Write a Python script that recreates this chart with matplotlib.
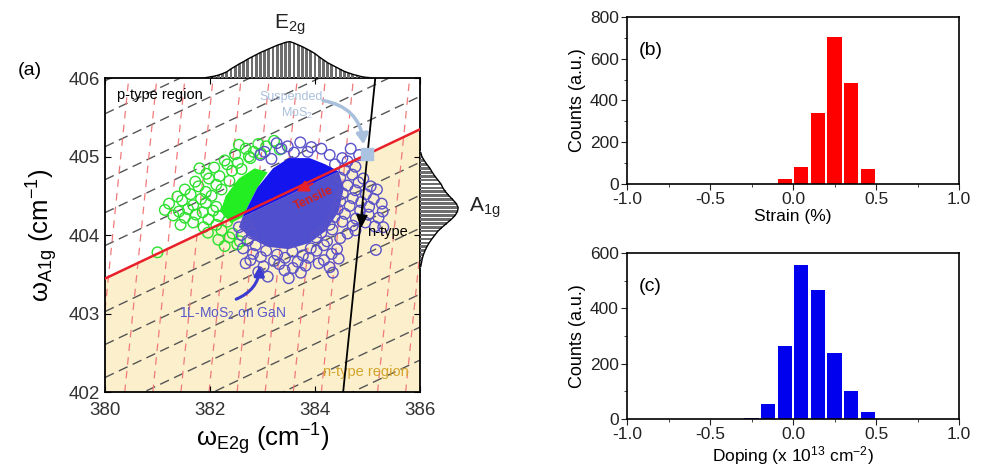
import numpy as np
import matplotlib.pyplot as plt
from matplotlib.patches import Polygon

plt.rcParams['font.family'] = ['Liberation Sans', 'DejaVu Sans']
plt.rcParams['mathtext.default'] = 'regular'

# ---- panel (b) / (c) histograms ----
strain_centers = [-0.05, 0.05, 0.15, 0.25, 0.35, 0.45]
strain_counts = [25, 80, 340, 705, 485, 70]
doping_centers = [-0.25, -0.15, -0.05, 0.05, 0.15, 0.25, 0.35, 0.45]
doping_counts = [3, 55, 265, 555, 465, 240, 100, 25]

# ---- marginal histograms of panel (a) (relative counts) ----
e2g_bins = [381.92, 382.00, 382.08, 382.16, 382.24, 382.32, 382.40, 382.48, 382.56, 382.64,
            382.72, 382.80, 382.88, 382.96, 383.04, 383.12, 383.20, 383.28, 383.36, 383.44,
            383.52, 383.60, 383.68, 383.76, 383.84, 383.92, 384.00, 384.08, 384.16, 384.24,
            384.32, 384.40, 384.48, 384.56, 384.64, 384.72, 384.80, 384.88, 384.96, 385.04]
e2g_counts = [0.01, 0.03, 0.05, 0.08, 0.12, 0.17, 0.25, 0.32, 0.39, 0.45,
              0.52, 0.58, 0.64, 0.70, 0.75, 0.80, 0.85, 0.90, 0.94, 0.98,
              1.00, 0.96, 0.91, 0.86, 0.80, 0.74, 0.67, 0.58, 0.50, 0.42,
              0.36, 0.30, 0.24, 0.18, 0.14, 0.10, 0.07, 0.04, 0.02, 0.01]
a1g_bins = [403.60, 403.65, 403.70, 403.75, 403.80, 403.85, 403.90, 403.95, 404.00, 404.05,
            404.10, 404.15, 404.20, 404.25, 404.30, 404.35, 404.40, 404.45, 404.50, 404.55,
            404.60, 404.65, 404.70, 404.75, 404.80, 404.85, 404.90, 404.95, 405.00, 405.05]
a1g_counts = [0.02, 0.04, 0.06, 0.09, 0.13, 0.18, 0.24, 0.31, 0.39, 0.47,
              0.58, 0.70, 0.82, 0.92, 0.98, 1.00, 0.95, 0.86, 0.76, 0.67,
              0.60, 0.55, 0.47, 0.39, 0.32, 0.26, 0.18, 0.11, 0.05, 0.02]

# ---- scatter of panel (a): (E2g, A1g) per spot ----
green_pts = [
    (383.22, 405.20), (382.92, 405.16), (382.68, 405.10), (382.83, 405.06), (383.07, 405.13),
    (383.33, 405.09), (382.48, 405.03), (382.74, 405.00), (382.97, 405.04), (382.28, 404.95),
    (382.53, 404.92), (382.77, 404.98), (382.08, 404.86), (382.33, 404.90), (382.60, 404.84),
    (381.93, 404.78), (382.18, 404.75), (382.42, 404.82), (381.72, 404.68), (381.98, 404.72),
    (382.12, 404.64), (382.37, 404.69), (381.52, 404.58), (381.78, 404.62), (381.92, 404.55),
    (382.22, 404.58), (381.38, 404.49), (381.63, 404.52), (381.83, 404.46), (382.03, 404.50),
    (381.22, 404.40), (381.47, 404.44), (381.68, 404.38), (381.92, 404.41), (382.12, 404.36),
    (381.14, 404.32), (381.41, 404.30), (381.58, 404.33), (381.86, 404.29), (382.06, 404.31),
    (381.52, 404.22), (381.73, 404.26), (381.97, 404.20), (382.17, 404.24), (381.44, 404.13),
    (381.68, 404.16), (381.88, 404.10), (382.12, 404.13), (382.33, 404.17), (381.96, 404.03),
    (382.22, 404.06), (382.43, 404.02), (382.16, 403.94), (382.37, 403.97), (382.57, 403.92),
    (382.28, 403.86), (382.52, 403.88), (381.00, 403.78), (381.30, 404.25), (381.80, 404.85),
    (382.55, 405.15),
]
blue_pts = [
    (383.27, 405.17), (383.48, 405.13), (383.72, 405.18), (383.93, 405.12), (383.04, 405.06),
    (383.36, 405.10), (383.60, 405.05), (383.86, 405.06), (384.12, 405.10), (384.68, 405.10),
    (382.96, 405.02), (383.17, 404.97), (384.28, 405.02), (384.52, 404.98), (384.84, 405.02),
    (384.38, 404.90), (384.62, 404.94),
    (384.56, 404.83), (384.77, 404.87), (384.48, 404.73), (384.71, 404.77), (384.92, 404.72),
    (384.62, 404.63), (384.83, 404.67), (385.06, 404.62), (384.53, 404.53), (384.77, 404.57),
    (384.97, 404.52), (385.18, 404.58), (384.48, 404.43), (384.72, 404.47), (384.88, 404.42),
    (385.12, 404.46), (385.27, 404.40), (384.43, 404.33), (384.66, 404.37), (384.86, 404.31),
    (385.03, 404.36), (385.29, 404.30), (384.37, 404.23), (384.57, 404.27), (384.78, 404.21),
    (385.02, 404.26), (385.21, 404.22), (384.28, 404.13), (384.52, 404.17), (384.72, 404.12),
    (384.96, 404.16), (385.14, 404.11), (384.12, 404.03), (384.33, 404.07), (384.62, 404.02),
    (384.77, 404.06),
    (382.72, 403.93), (384.02, 403.97), (384.23, 403.92), (384.48, 403.96), (382.63, 403.83),
    (382.87, 403.87), (383.92, 403.83), (384.17, 403.87), (384.42, 403.82), (382.82, 403.76),
    (383.07, 403.80), (383.28, 403.75), (383.57, 403.79), (383.77, 403.74), (384.03, 403.80),
    (384.32, 403.76), (382.77, 403.68), (382.97, 403.72), (383.22, 403.67), (383.43, 403.71),
    (383.67, 403.66), (383.88, 403.71), (384.17, 403.68), (383.02, 403.60), (383.32, 403.63),
    (383.58, 403.58), (383.82, 403.61), (384.07, 403.64), (384.28, 403.59), (382.92, 403.53),
    (383.42, 403.55), (383.73, 403.52), (384.34, 403.52), (383.10, 403.47), (382.68, 403.64),
    (385.16, 403.81), (385.30, 404.10), (382.55, 404.10), (382.70, 404.12), (382.60, 404.00),
    (382.80, 404.02), (383.50, 403.45), (384.45, 403.70),
]

# dense cores of the clouds (outline vertices)
green_core_x = [382.62, 382.90, 383.10, 382.85, 382.55, 382.30, 382.20, 382.40]
green_core_y = [404.23, 404.60, 404.80, 404.85, 404.72, 404.50, 404.30, 404.15]
blue_core_x = [382.62, 382.90, 383.20, 383.50, 383.90, 384.20, 384.45]
blue_core_y = [404.23, 404.60, 404.85, 404.98, 404.98, 404.90, 404.81]
purple_core_x = [382.62, 384.45, 384.55, 384.45, 384.20, 383.90, 383.50, 383.10, 382.80, 382.55]
purple_core_y = [404.23, 404.81, 404.60, 404.30, 404.05, 403.90, 403.82, 403.85, 403.95, 404.10]

# reference point and the strain / doping axes through it
susp_x, susp_y = 385.0, 405.03
strain_slope = 0.317      # dA1g/dE2g along zero-doping line
doping_dxdy = 0.153       # dE2g/dA1g along zero-strain line
doping_step = 0.42        # spacing of iso-doping lines (in A1g)
strain_step = 0.535       # spacing of iso-strain lines (in E2g)

fig = plt.figure(figsize=(9.82, 4.73), dpi=100)

ax = fig.add_axes([0.1069, 0.1712, 0.3208, 0.6638])
axt = fig.add_axes([0.1069, 0.8351, 0.3208, 0.0846])
axr = fig.add_axes([0.4277, 0.1712, 0.0428, 0.6638])
axb = fig.add_axes([0.6385, 0.611, 0.3381, 0.3531])
axc = fig.add_axes([0.6385, 0.1142, 0.3381, 0.351])

xs = np.array([380.0, 386.0])
red_y = susp_y + strain_slope * (xs - susp_x)
ax.fill_between(xs, 402, red_y, color='#fcefcb', zorder=0, lw=0)

for k in range(-9, 8):
    if k == 0:
        continue
    ax.plot(xs, red_y + k * doping_step, color='#555555', lw=1.0,
            dashes=(7, 4), zorder=1)
ys = np.array([402.0, 406.0])
blk_x = susp_x + doping_dxdy * (ys - susp_y)
for k in range(-10, 4):
    if k == 0:
        continue
    ax.plot(blk_x + k * strain_step + 0.12, ys, color='#f07a7a', lw=0.9,
            dashes=(6, 5), zorder=1)

gx, gy = zip(*green_pts)
bx, by = zip(*blue_pts)
ax.add_patch(Polygon(np.column_stack([green_core_x, green_core_y]), closed=True,
                     color='#22ee22', lw=0, zorder=2))
ax.scatter(gx, gy, s=58, facecolors='none', edgecolors='#2ee02e', lw=1, zorder=2)
ax.add_patch(Polygon(np.column_stack([purple_core_x, purple_core_y]), closed=True,
                     color='#5050cf', lw=0, zorder=3))
ax.scatter(bx, by, s=58, facecolors='none', edgecolors='#5a52c8', lw=1, zorder=3)
ax.add_patch(Polygon(np.column_stack([blue_core_x, blue_core_y]), closed=True,
                     color='#1414ee', lw=0, zorder=3))

ax.plot(xs, red_y, color='#e8202a', lw=1.8, zorder=5)
ax.plot(blk_x, ys, color='black', lw=1.3, zorder=5)
ax.plot([susp_x], [susp_y], 's', color='#a9c3e0', ms=8, zorder=6)

ax.annotate('', xy=(383.6, 404.54), xytext=(384.0, 404.67),
            arrowprops=dict(arrowstyle='-|>,head_length=0.7,head_width=0.35',
                            color='#e8202a', lw=1.5), zorder=6)
ax.text(383.98, 404.47, 'Tensile', color='#d02020', fontsize=9, fontweight='bold',
        rotation=25, ha='center', va='center', zorder=6)
ax.annotate('', xy=(384.87, 404.05), xytext=(384.92, 404.45),
            arrowprops=dict(arrowstyle='-|>,head_length=0.8,head_width=0.35',
                            color='black', lw=1.2), zorder=6)
ax.text(385.0, 404.04, 'n-type', fontsize=10.5, ha='left', va='center', zorder=6)
ax.text(383.55, 405.76, 'Suspended', color='#aac0dd', fontsize=9, ha='center', va='center')
ax.text(383.65, 405.55, 'MoS$_2$', color='#aac0dd', fontsize=9, ha='center', va='center')
ax.annotate('', xy=(384.93, 405.12), xytext=(384.1, 405.72),
            arrowprops=dict(arrowstyle='-|>,head_length=0.6,head_width=0.35',
                            color='#a8c0dc', lw=2.5, connectionstyle='arc3,rad=-0.4'))
ax.text(382.42, 403.0, '1L-MoS$_2$ on GaN', color='#5858c8', fontsize=10,
        ha='center', va='center')
ax.annotate('', xy=(382.95, 403.65), xytext=(382.45, 403.17),
            arrowprops=dict(arrowstyle='-|>,head_length=0.6,head_width=0.3',
                            color='#3b3bd0', lw=2.2, connectionstyle='arc3,rad=0.35'))
ax.text(380.23, 405.78, 'p-type region', fontsize=10.5, ha='left', va='center')
ax.text(384.15, 402.25, 'n-type region', color='#d4a52c', fontsize=10.5, ha='left',
        va='center', zorder=4)

ax.set_xlim(380, 386)
ax.set_ylim(402, 406)
ax.set_xticks([380, 382, 384, 386])
ax.set_yticks([402, 403, 404, 405, 406])
ax.tick_params(direction='in', top=True, right=True, labelsize=13.5, length=4,
               labelcolor='#333333')
ax.tick_params(axis='x', pad=7)
for s in ax.spines.values():
    s.set_linewidth(1.3)
ax.set_xlabel('ω$_{E2g}$ (cm$^{-1}$)', fontsize=18.5, labelpad=2)
ax.set_ylabel('ω$_{A1g}$ (cm$^{-1}$)', fontsize=18.5, labelpad=6)

# marginals
axt.bar(e2g_bins, e2g_counts, width=0.055, color='#6e6e6e', lw=0)
axt.plot(e2g_bins, e2g_counts, color='black', lw=1)
axt.set_xlim(380, 386)
axt.set_ylim(0, 1.1)
axt.axis('off')
axr.barh(a1g_bins, a1g_counts, height=0.035, color='#6e6e6e', lw=0)
axr.plot(a1g_counts, a1g_bins, color='black', lw=1)
axr.set_ylim(402, 406)
axr.set_xlim(0, 1.1)
axr.axis('off')
fig.text(0.295, 0.948, 'E$_{2g}$', fontsize=15, ha='center', va='center', color='#222222')
fig.text(0.478, 0.56, 'A$_{1g}$', fontsize=15, ha='left', va='center', color='#222222')
fig.text(0.018, 0.852, '(a)', fontsize=14, ha='left', va='center')

# (b) and (c)
for a, cen, cnt, col, ymax, lab, xl in [
        (axb, strain_centers, strain_counts, '#ff0000', 800, '(b)', 'Strain (%)'),
        (axc, doping_centers, doping_counts, '#0000ee', 600, '(c)',
         'Doping (x 10$^{13}$ cm$^{-2}$)')]:
    a.bar(cen, cnt, width=0.085, color=col, lw=0)
    a.set_xlim(-1, 1)
    a.set_ylim(0, ymax)
    a.set_xticks([-1.0, -0.5, 0.0, 0.5, 1.0])
    a.set_xticklabels(['-1.0', '-0.5', '0.0', '0.5', '1.0'])
    a.set_xticks([-0.75, -0.25, 0.25, 0.75], minor=True)
    a.set_yticks(np.arange(0, ymax + 1, 200))
    a.set_yticks(np.arange(100, ymax, 200), minor=True)
    a.tick_params(which='both', labelsize=12.5, colors='#222222', pad=2)
    a.tick_params(which='major', length=4)
    a.tick_params(which='minor', length=2.5)
    for s in a.spines.values():
        s.set_linewidth(1.2)
    a.set_xlabel(xl, fontsize=12.5, labelpad=1)
    a.set_ylabel('Counts (a.u.)', fontsize=13, labelpad=3)
    a.text(-0.93, ymax * 0.8, lab, fontsize=14, ha='left', va='center')

fig.savefig('out.png', dpi=100)
